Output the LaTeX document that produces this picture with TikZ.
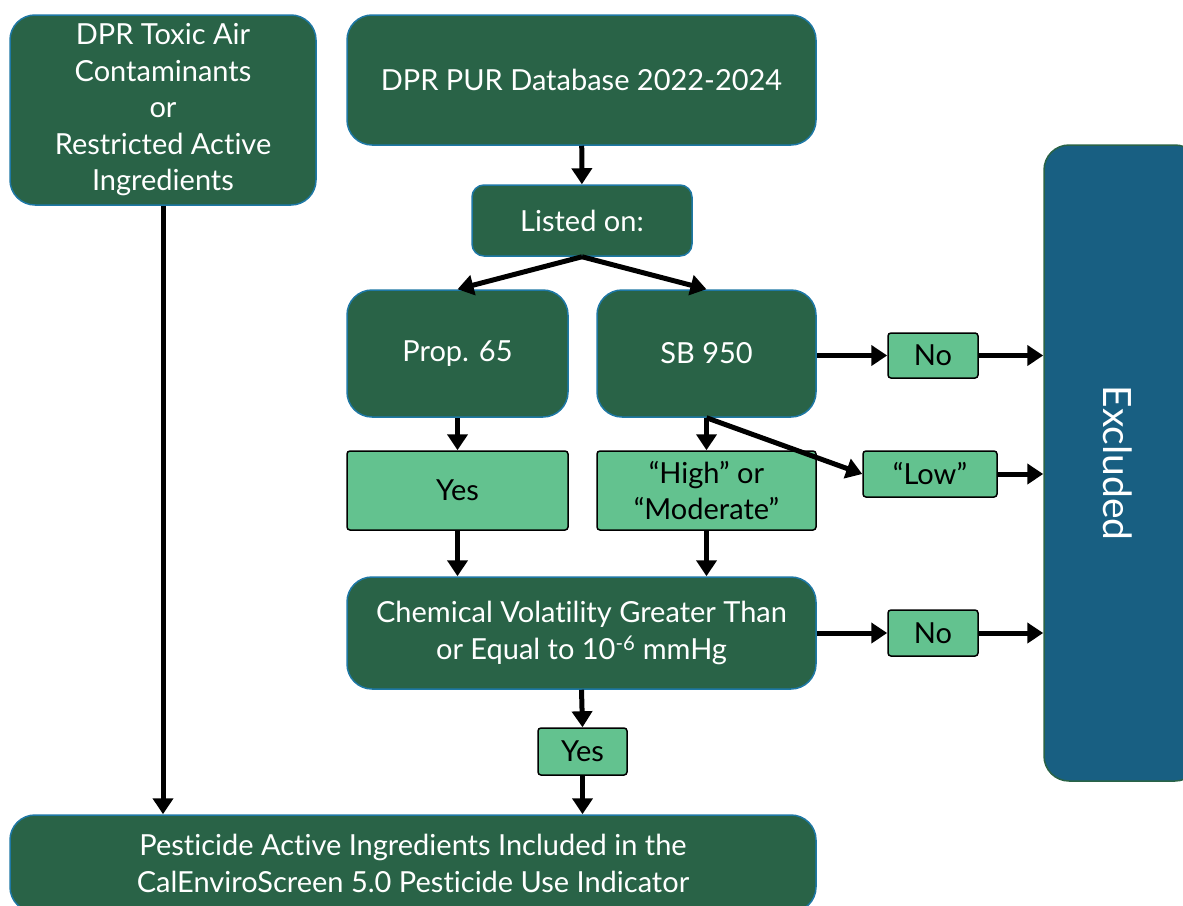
\documentclass[tikz,border=0pt]{standalone}
\usepackage{fontspec}
\setmainfont{Lato}[Ligatures=NoCommon]
\usetikzlibrary{arrows.meta}
\definecolor{dg}{RGB}{41,99,71}
\definecolor{bb}{RGB}{30,120,165}
\definecolor{lg}{RGB}{99,194,143}
\definecolor{exb}{RGB}{24,95,130}
\tikzset{
  dark/.style={draw=bb, line width=1.5pt, fill=dg, rounded corners=25pt, text=white, align=center,
    font=\fontsize{29}{36.5}\selectfont, inner sep=0pt},
  light/.style={draw=black, line width=1.5pt, fill=lg, rounded corners=3pt, align=center,
    font=\fontsize{29}{36.5}\selectfont, inner sep=0pt},
  arr/.style={line width=5pt, -{Triangle[length=16pt,width=20pt]}},
}
\begin{document}
\begin{tikzpicture}[x=1pt,y=-1pt]
\useasboundingbox (0,0) rectangle (1183,905);
\clip (0,0) rectangle (1183,905);
\node[dark, minimum width=306pt, minimum height=190pt] (tac) at (163,110) {DPR Toxic Air\\Contaminants\\or\\Restricted Active\\Ingredients};
\node[dark, minimum width=469pt, minimum height=130pt] (pur) at (581.5,80) {DPR PUR Database 2022-2024};
\node[dark, rounded corners=12pt, minimum width=220pt, minimum height=71pt] (listed) at (582,220.5) {Listed on:};
\node[dark, minimum width=221pt, minimum height=127pt] (prop) at (457.5,353.5) {Prop. 65};
\node[dark, minimum width=219pt, minimum height=127pt] (sb) at (706.5,353.5) {SB 950};
\node[light, minimum width=90pt, minimum height=45pt] (noA) at (933,355.5) {No};
\node[draw=dg, line width=1.5pt, fill=exb, rounded corners=25pt, minimum width=156pt, minimum height=636pt] (exc) at (1122,463) {};
\node[text=white, font=\fontsize{39}{44}\selectfont, rotate=-90] (exct) at (1118,463) {Excluded};
\node[light, minimum width=221pt, minimum height=79pt] (yes) at (457.5,490.5) {Yes};
\node[light, minimum width=219pt, minimum height=79pt] (high) at (706.5,490.5) {“High” or\\“Moderate”};
\node[light, minimum width=134pt, minimum height=46pt] (low) at (930,474) {“Low”};
\node[dark, minimum width=469pt, minimum height=112pt] (chem) at (581.5,633) {Chemical Volatility Greater Than\\or Equal to 10\textsuperscript{-6} mmHg};
\node[light, minimum width=90pt, minimum height=46pt] (noB) at (933,633) {No};
\node[light, minimum width=89pt, minimum height=47pt] (yesS) at (582.5,751.5) {Yes};
\node[dark, minimum width=806pt, minimum height=97pt] (pest) at (413,863.5) {Pesticide Active Ingredients Included in the\\CalEnviroScreen 5.0 Pesticide Use Indicator};
\draw[arr] (pur) -- (listed);
\draw[arr] (listed.south) -- (prop.north);
\draw[arr] (listed.south) -- (sb.north);
\draw[arr] (prop) -- (yes);
\draw[arr] (sb.south) -- (high.north);
\draw[arr] (sb.south) -- (low.west);
\draw[arr] (yes.south) -- (yes.south |- chem.north);
\draw[arr] (high.south) -- (high.south |- chem.north);
\draw[arr] (noA.west -| sb.east) -- (noA.west);
\draw[arr] (noA.east) -- (noA.east -| exc.west);
\draw[arr] (low.east) -- (low.east -| exc.west);
\draw[arr] (chem.east) -- (noB.west);
\draw[arr] (noB.east) -- (noB.east -| exc.west);
\draw[arr] (chem.south) -- (yesS.north);
\draw[arr] (yesS.south) -- (yesS.south |- pest.north);
\draw[arr] (tac.south) -- (tac.south |- pest.north);
\end{tikzpicture}
\end{document}
